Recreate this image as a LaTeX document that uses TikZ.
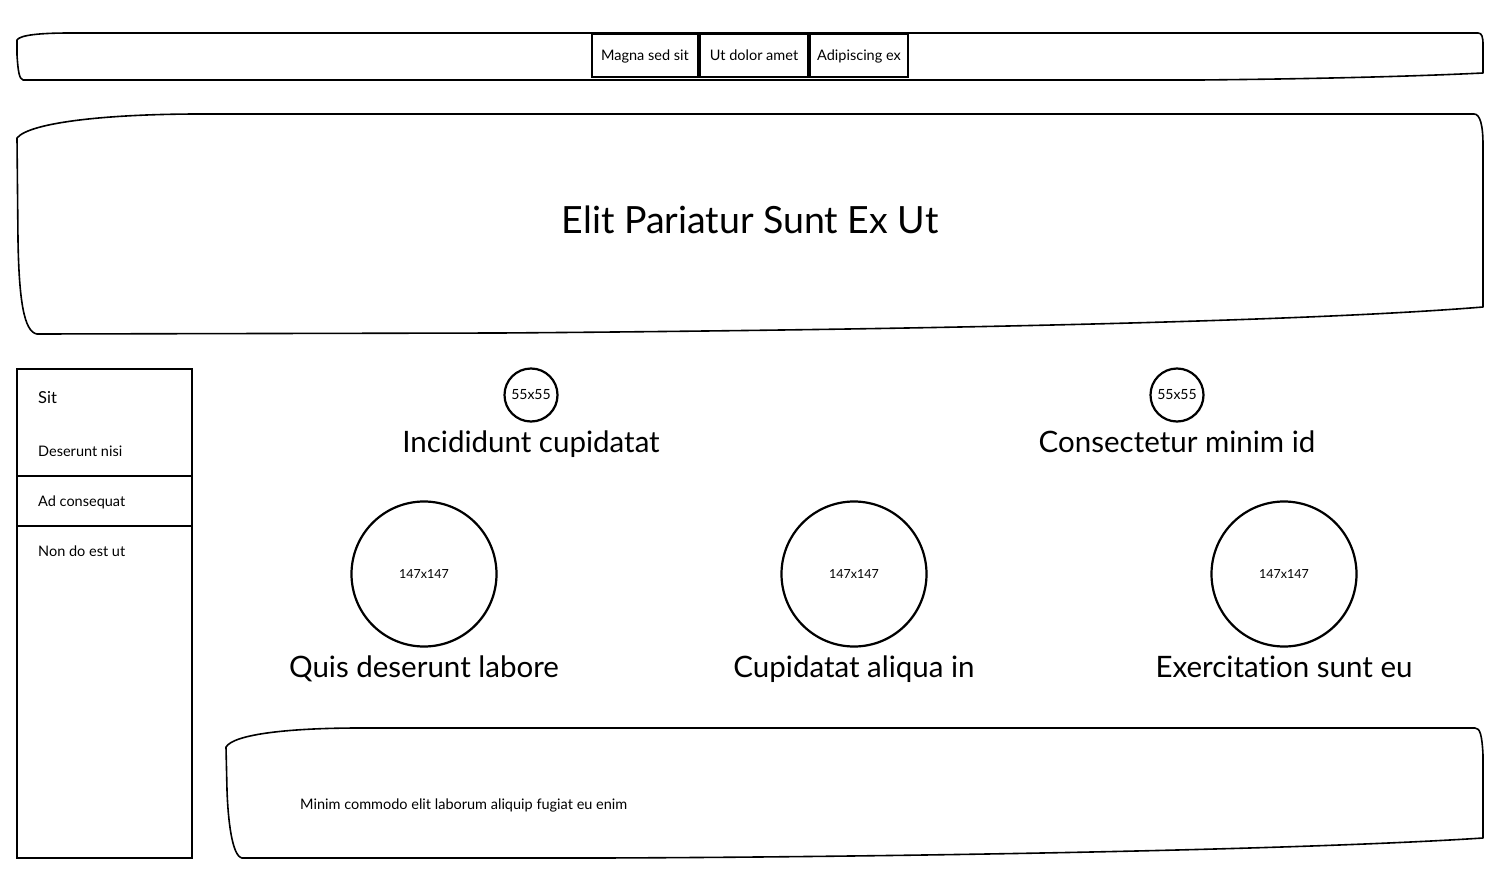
\documentclass[tikz,border=0pt]{standalone}
\usepackage{fontspec}
\setmainfont{Lato}[Ligatures=NoCommon]
\usetikzlibrary{shadows}
\begin{document}
\begin{tikzpicture}[x=1pt,y=-1pt,
  sk/.style={draw=black,line width=1.6pt,line join=round},
  thick box/.style={draw=black,line width=2.4pt,fill=white,drop shadow={opacity=0.35,shadow xshift=1pt,shadow yshift=-1pt}},
  btn/.style={thick box,minimum height=43pt,inner sep=0pt,text height=13pt,text depth=2pt,font=\fontsize{14.5}{16}\selectfont},
  circ/.style={circle,draw=black,line width=2.2pt,fill=white,inner sep=0pt,drop shadow={opacity=0.35,shadow xshift=1pt,shadow yshift=-1pt}},
  side/.style={anchor=base west,inner sep=0pt,font=\fontsize{14.5}{16}\selectfont},
  big/.style={anchor=base,inner sep=0pt,font=\fontsize{29.5}{32}\selectfont}]
\useasboundingbox[fill=white] (0,0) rectangle (1500,891);
% top bar
\draw[sk] (17,40) .. controls (20,35) and (40,33) .. (70,33) -- (1478,33)
  .. controls (1482,33) and (1483,37) .. (1483,45) -- (1483,73)
  .. controls (1400,77) and (1300,79) .. (1200,80) -- (23,80)
  .. controls (19,79) and (18,70) .. (17,55) -- cycle;
\node[btn,minimum width=106pt] (b1) at (645,55.5) {Magna sed sit};
\node[btn,minimum width=108pt] (b2) at (754,55.5) {Ut dolor amet};
\node[btn,minimum width=98pt] (b3) at (859,55.5) {Adipiscing ex};
% header box
\draw[sk] (17,138) .. controls (30,122) and (110,114) .. (200,114) -- (1474,114)
  .. controls (1480,114) and (1483,125) .. (1483,145) -- (1483,307)
  .. controls (1300,322) and (900,330) .. (500,333) -- (37,334)
  .. controls (24,332) and (19,300) .. (18,240) -- cycle;
\node[anchor=base,inner sep=0pt,font=\fontsize{37.5}{40}\selectfont] (title) at (750,233) {Elit Pariatur Sunt Ex Ut};
% sidebar
\draw[line width=2.4pt,fill=white,drop shadow={opacity=0.35,shadow xshift=1pt,shadow yshift=-1pt}] (17,369) rectangle (192,858);
\draw[line width=2.2pt] (17,476) -- (192,476);
\draw[line width=2.2pt] (17,526) -- (192,526);
\node[side,font=\fontsize{16.5}{18}\selectfont] (s1) at (38,403) {Sit};
\node[side] (s2) at (38,456) {Deserunt nisi};
\node[side] (s3) at (38,506) {Ad consequat};
\node[side] (s4) at (38,556) {Non do est ut};
% small circles
\node[circ,minimum size=53pt,font=\fontsize{14}{16}\selectfont] (c1) at (531,395) {55x55};
\node[circ,minimum size=53pt,font=\fontsize{14}{16}\selectfont] (c2) at (1177,395) {55x55};
\node[big] (l1) at (531,452) {Incididunt cupidatat};
\node[big] (l2) at (1177,452) {Consectetur minim id};
% large circles
\node[circ,minimum size=145pt,font=\fontsize{12.5}{14}\selectfont] (C1) at (424,574) {147x147};
\node[circ,minimum size=145pt,font=\fontsize{12.5}{14}\selectfont] (C2) at (854,574) {147x147};
\node[circ,minimum size=145pt,font=\fontsize{12.5}{14}\selectfont] (C3) at (1284,574) {147x147};
\node[big] (L1) at (424,677) {Quis deserunt labore};
\node[big] (L2) at (854,677) {Cupidatat aliqua in};
\node[big] (L3) at (1284,677) {Exercitation sunt eu};
% bottom box
\draw[sk] (226,747) .. controls (234,734) and (290,728) .. (360,728) -- (1475,728)
  .. controls (1480,728) and (1482,735) .. (1483,755) -- (1483,838)
  .. controls (1300,850) and (900,857) .. (600,858) -- (242,858)
  .. controls (232,856) and (228,820) .. (227,790) -- cycle;
\node[side] (txt) at (300,809) {Minim commodo elit laborum aliquip fugiat eu enim};
\end{tikzpicture}
\end{document}
